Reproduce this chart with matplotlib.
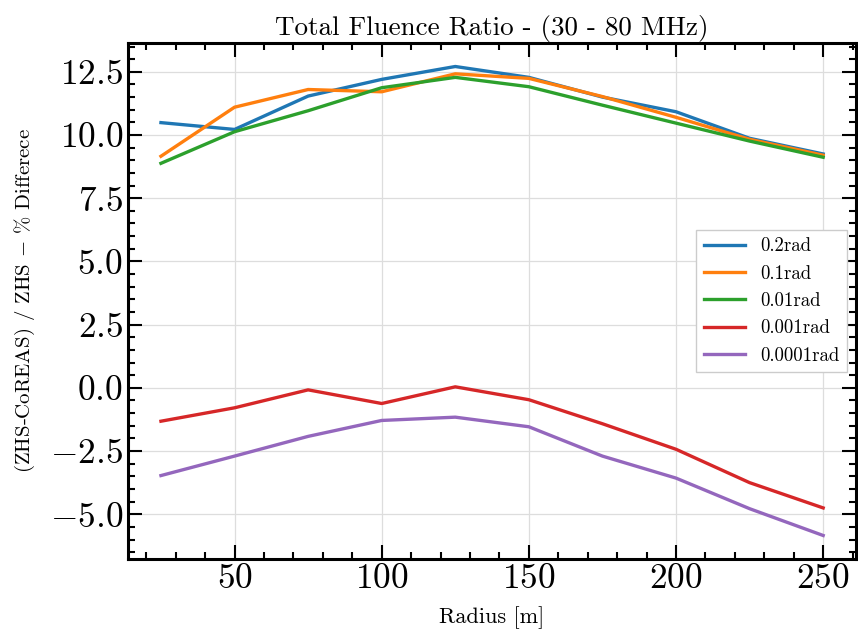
import matplotlib
matplotlib.use("Agg")
import matplotlib.pyplot as plt
from matplotlib.ticker import AutoMinorLocator, MultipleLocator, FormatStrFormatter

plt.rcParams["font.family"] = "serif"
plt.rcParams["font.serif"] = ["cmr10"]
plt.rcParams["mathtext.fontset"] = "cm"
plt.rcParams["axes.formatter.use_mathtext"] = True

# Donnees
radius = [25, 50, 75, 100, 125, 150, 175, 200, 225, 250]
labels = ["0.2rad", "0.1rad", "0.01rad", "0.001rad", "0.0001rad"]
diff_02 = [10.49, 10.22, 11.54, 12.20, 12.71, 12.28, 11.50, 10.92, 9.87, 9.25]
diff_01 = [9.16, 11.10, 11.80, 11.71, 12.42, 12.24, 11.52, 10.70, 9.83, 9.20]
diff_001 = [8.88, 10.13, 10.96, 11.87, 12.28, 11.91, 11.18, 10.47, 9.76, 9.12]
diff_0001 = [-1.32, -0.79, -0.08, -0.62, 0.04, -0.47, -1.42, -2.43, -3.75, -4.75]
diff_00001 = [-3.47, -2.70, -1.92, -1.29, -1.16, -1.54, -2.70, -3.57, -4.78, -5.84]
series = [diff_02, diff_01, diff_001, diff_0001, diff_00001]

fig = plt.figure(figsize=(8.58, 6.33), dpi=100)
ax = fig.add_axes([0.149, 0.117, 0.849, 0.815])

for vals, lab in zip(series, labels):
    ax.plot(radius, vals, lw=2.4, label=lab)

ax.set_title("Total Fluence Ratio - (30 - 80 MHz)", fontsize=19.5)
ax.set_xlabel("Radius [m]", fontsize=16, labelpad=8)
ax.set_ylabel("(ZHS-CoREAS) / ZHS $-$ % Differece", fontsize=15, labelpad=9)

ax.yaxis.set_major_locator(MultipleLocator(2.5))
ax.yaxis.set_major_formatter(FormatStrFormatter("$%.1f$"))
ax.xaxis.set_minor_locator(AutoMinorLocator(5))
ax.yaxis.set_minor_locator(AutoMinorLocator(5))
ax.tick_params(which="both", direction="in", top=True, right=True, labelsize=25.5, width=1.5)
ax.tick_params(which="major", length=10)
ax.tick_params(which="minor", length=5)
for s in ax.spines.values():
    s.set_linewidth(2.2)
ax.grid(True, color="#dddddd", lw=0.9)

ax.legend(loc="center right", fontsize=13.5,
          fancybox=False, edgecolor="#cccccc", framealpha=1, handlelength=2.2)

fig.savefig("out.png", dpi=100)
